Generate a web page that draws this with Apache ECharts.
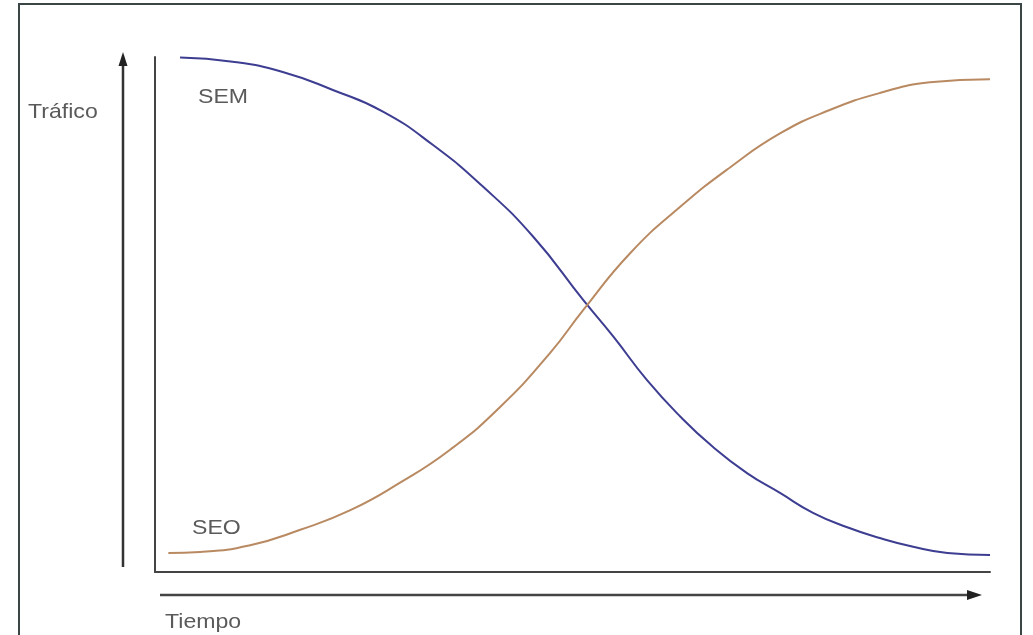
<!DOCTYPE html>
<html>
<head>
<meta charset="utf-8">
<script src="https://cdn.jsdelivr.net/npm/echarts@6/dist/echarts.min.js"></script>
<style>
html,body{margin:0;padding:0;background:#fff;}
#chart{width:1033px;height:635px;}
</style>
</head>
<body>
<div id="chart"></div>
<script>
// Time axis positions (0-100) and traffic values (0-100)
const semX = [3.0, 9.3, 15.3, 21.3, 27.3, 33.3, 39.3, 45.3, 51.3, 54.9, 58.9, 62.9, 66.8, 70.9, 74.9, 78.8, 82.9, 86.8, 90.8, 94.9, 100];
const semY = [99.9, 99.1, 97.1, 93.6, 89.4, 82.9, 74.8, 65.1, 52.8, 45.7, 37.3, 30.2, 24.3, 19.2, 15.3, 11.5, 8.7, 6.6, 4.9, 3.7, 3.3];
const seoX = [1.6, 5.4, 11.4, 17.4, 23.4, 29.3, 35.3, 41.3, 47.3, 51.3, 56.9, 62.9, 68.9, 74.9, 80.8, 86.8, 92.8, 100];
const seoY = [3.7, 3.9, 5.2, 8.2, 12.0, 17.3, 23.7, 32.0, 42.5, 50.9, 61.9, 70.9, 78.6, 85.2, 89.7, 93.0, 95.1, 95.7];
const seriesNames = ['SEM', 'SEO'];
const axisNames = ['Tráfico', 'Tiempo'];

const zip = (xs, ys) => xs.map((x, i) => [x, ys[i]]);
const txt = (text, x, y) => ({type:'text', x:x, y:y, scaleX:1.1,
  style:{text:text, fill:'#5a5a5a', font:'21px "Liberation Sans", Arial, sans-serif', verticalAlign:'middle'}});

const chart = echarts.init(document.getElementById('chart'), null, {renderer:'canvas'});
chart.setOption({
  backgroundColor:'#ffffff',
  animation:false,
  grid:{left:155, right:43, top:57, bottom:63},
  xAxis:{type:'value', min:0, max:100, axisLine:{show:true, onZero:false, lineStyle:{color:'#444', width:2}},
         axisTick:{show:false}, axisLabel:{show:false}, splitLine:{show:false}},
  yAxis:{type:'value', min:0, max:100, axisLine:{show:true, onZero:false, lineStyle:{color:'#444', width:2}},
         axisTick:{show:false}, axisLabel:{show:false}, splitLine:{show:false}},
  series:[
    {name:seriesNames[0], type:'line', smooth:true, showSymbol:false, data:zip(semX, semY),
     lineStyle:{color:'#3d3d92', width:2}},
    {name:seriesNames[1], type:'line', smooth:true, showSymbol:false, data:zip(seoX, seoY),
     lineStyle:{color:'#b98a62', width:2}}
  ],
  graphic:[
    {type:'rect', shape:{x:19, y:4, width:1002, height:640}, style:{fill:'none', stroke:'#3a4545', lineWidth:2}},
    // vertical arrow
    {type:'line', shape:{x1:123, y1:567, x2:123, y2:62}, style:{stroke:'#333', lineWidth:2.5}},
    {type:'polygon', shape:{points:[[123,52],[118.5,66],[127.5,66]]}, style:{fill:'#222'}},
    // horizontal arrow
    {type:'line', shape:{x1:160, y1:595, x2:972, y2:595}, style:{stroke:'#444', lineWidth:2.5}},
    {type:'polygon', shape:{points:[[982,595],[967,590],[967,600]]}, style:{fill:'#222'}},
    txt(axisNames[0], 28, 112),
    txt(axisNames[1], 165, 622),
    txt(seriesNames[0], 198, 97),
    txt(seriesNames[1], 192, 528)
  ]
});
</script>
</body>
</html>
